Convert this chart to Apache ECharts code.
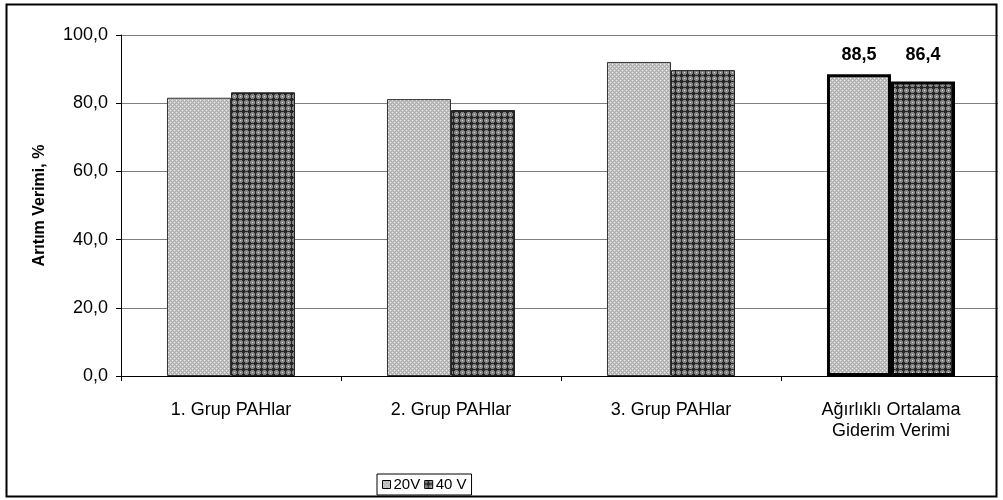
<!DOCTYPE html>
<html>
<head>
<meta charset="utf-8">
<script src="https://cdn.jsdelivr.net/npm/echarts@6/dist/echarts.min.js"></script>
<style>
  html, body { margin: 0; padding: 0; background: #fff; }
  #chart { width: 1003px; height: 500px; }
</style>
</head>
<body>
<div id="chart"></div>
<script>
// Removal efficiency by PAH group at two voltages
const categories = ['1. Grup PAHlar', '2. Grup PAHlar', '3. Grup PAHlar', 'Ağırlıklı Ortalama\nGiderim Verimi'];
const seriesNames = ['20V', '40 V'];
const values20V = [81.6, 81.2, 92.1, 88.5];
const values40V = [83.2, 78.0, 89.7, 86.4];
const yTicks = [0, 20, 40, 60, 80, 100];
// index of the summary category, drawn with heavy outline and value labels
const summaryIndex = 3;

const FONT = 'Liberation Sans, Arial, sans-serif';

// plot geometry (pixels)
const GRID = { left: 121, right: 2, top: 35, bottom: 124 };
const plotHeight = 500 - GRID.top - GRID.bottom;
const pxPerUnit = plotHeight / (yTicks[yTicks.length - 1] - yTicks[0]);

// Pixel tile helper: each char maps to a colour
function makeTile(rows, palette) {
  const h = rows.length, w = rows[0].length;
  const c = document.createElement('canvas');
  c.width = w; c.height = h;
  const ctx = c.getContext('2d');
  for (let y = 0; y < h; y++) {
    for (let x = 0; x < w; x++) {
      ctx.fillStyle = palette[rows[y][x]];
      ctx.fillRect(x, y, 1, 1);
    }
  }
  return c;
}

// light dotted fill
const lightTile = makeTile([
  'WLGL',
  'LGLG',
  'GLWL',
  'LGLG'
], { W: '#ececec', L: '#c6c6c6', G: '#aaaaaa' });

// dark fill with crosses and small light dots
const darkTile = makeTile([
  'WMMKMM',
  'MMMKMM',
  'MMKKKM',
  'KKKKKK',
  'MMKKKM',
  'MMMKMM'
], { W: '#e0e0e0', M: '#858585', K: '#262626' });

const fillLight = { image: lightTile, repeat: 'repeat' };
const fillDark = { image: darkTile, repeat: 'repeat' };

function fmt(v) { return v.toFixed(1).replace('.', ','); }

// both summary labels sit on one baseline above the taller bar
const labelTopValue = Math.max(values20V[summaryIndex], values40V[summaryIndex]);

function buildData(vals) {
  return vals.map((v, i) => {
    if (i !== summaryIndex) return v;
    return {
      value: v,
      itemStyle: { borderWidth: 3, borderColor: '#000' },
      label: {
        show: true, position: 'top',
        distance: 10 + (labelTopValue - v) * pxPerUnit,
        formatter: p => fmt(p.value),
        fontFamily: FONT, fontSize: 18, fontWeight: 'bold', color: '#000'
      }
    };
  });
}

const chart = echarts.init(document.getElementById('chart'), null, { renderer: 'canvas' });

chart.setOption({
  animation: false,
  backgroundColor: '#fff',
  graphic: [
    {
      type: 'rect',
      shape: { x: 998, y: 0, width: 10, height: 500 },
      style: { fill: '#fff' },
      silent: true, z: 100
    },
    {
      type: 'rect',
      shape: { x: 6.5, y: 4.5, width: 990, height: 492 },
      style: { fill: 'none', stroke: '#000', lineWidth: 2 },
      silent: true, z: 101
    }
  ],
  grid: GRID,
  legend: {
    data: seriesNames,
    left: 377, top: 474,
    orient: 'horizontal',
    itemWidth: 8, itemHeight: 8, itemGap: 4,
    padding: [3, 5, 3, 5],
    borderColor: '#000', borderWidth: 1,
    icon: 'rect',
    itemStyle: { borderColor: '#000', borderWidth: 1 },
    textStyle: { fontFamily: FONT, fontSize: 15, color: '#000', padding: [0, 0, 0, -2] }
  },
  xAxis: {
    type: 'category',
    data: categories,
    axisLine: { lineStyle: { color: '#000', width: 1 } },
    axisTick: { show: true, length: 5, lineStyle: { color: '#000' } },
    axisLabel: {
      margin: 24, color: '#000', fontFamily: FONT, fontSize: 18, lineHeight: 21,
      interval: 0
    },
    splitLine: { show: false }
  },
  yAxis: {
    type: 'value',
    min: yTicks[0], max: yTicks[yTicks.length - 1], interval: 20,
    name: 'Arıtım Verimi, %',
    nameLocation: 'middle',
    nameGap: 73,
    nameTextStyle: { fontFamily: FONT, fontSize: 16, fontWeight: 'bold', color: '#000' },
    axisLine: { show: true, lineStyle: { color: '#000', width: 1 } },
    axisTick: { show: true, length: 5, lineStyle: { color: '#000' } },
    axisLabel: { formatter: v => fmt(v), color: '#000', fontFamily: FONT, fontSize: 18, margin: 13 },
    splitLine: { show: true, lineStyle: { color: '#808080', width: 1 } }
  },
  series: [
    {
      name: seriesNames[0], type: 'bar',
      data: buildData(values20V),
      barGap: '0%', barCategoryGap: '41.8%',
      itemStyle: { color: fillLight, borderColor: '#333', borderWidth: 1 }
    },
    {
      name: seriesNames[1], type: 'bar',
      data: buildData(values40V),
      barGap: '0%', barCategoryGap: '41.8%',
      itemStyle: { color: fillDark, borderColor: '#222', borderWidth: 1 }
    }
  ]
});
</script>
</body>
</html>
